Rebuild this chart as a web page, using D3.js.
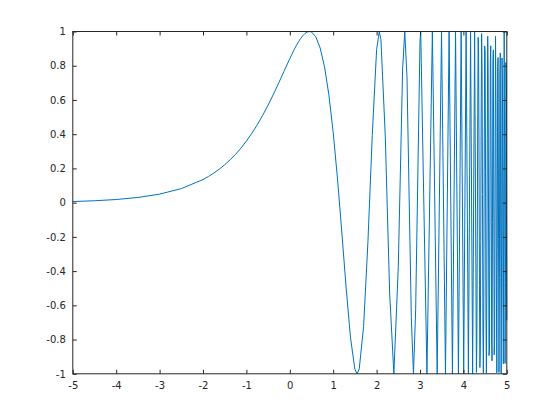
<!DOCTYPE html>
<html>
<head>
    <meta charset="utf-8">
    <title>sin(exp(x))</title>
<script src="https://d3js.org/d3.v7.min.js"></script>
<style>
body { margin: 0; background: #fff; }
text { font-family: "DejaVu Sans", sans-serif; font-size: 10px; fill: #262626; }
</style>
</head>
<body>
<script type="text/javascript">
var width = 560,
    height = 420;

// smooth part of the curve
var xSmooth = [-5, -4.5, -4, -3.5, -3, -2.5, -2, -1.875, -1.75, -1.625, -1.5, -1.375, -1.25, -1.125,
    -1, -0.875, -0.75, -0.625, -0.5, -0.375, -0.25, -0.125,
    0, 0.05, 0.1, 0.15, 0.2, 0.25, 0.3, 0.35, 0.4, 0.4516, 0.5, 0.6, 0.7, 0.8, 0.9, 1.0, 1.1, 1.2, 1.3, 1.4, 1.5, 1.5502,
    1.6, 1.7, 1.8, 1.9, 2.0, 2.0611, 2.1, 2.2, 2.3, 2.3975, 2.5, 2.6, 2.6488, 2.7, 2.8, 2.8495, 2.9, 3.0];
var ySmooth = [0.0067, 0.0111, 0.0183, 0.0302, 0.0498, 0.0820, 0.1349, 0.1528, 0.1729, 0.1956, 0.2213, 0.2502, 0.2826, 0.3190,
    0.3596, 0.4049, 0.4550, 0.5101, 0.5700, 0.6345, 0.7020, 0.7723,
    0.8415, 0.8681, 0.8938, 0.9175, 0.9397, 0.9592, 0.9757, 0.9885, 0.9969, 1, 0.9970, 0.9687, 0.9034, 0.7935, 0.6303, 0.4108, 0.1370, -0.1776, -0.5035, -0.7917, -0.9735, -1,
    -0.9712, -0.7237, -0.2314, 0.3919, 0.8939, 1, 0.9514, 0.3892, -0.5222, -1, -0.3745, 0.7817, 1, 0.7366, -0.6720, -1, -0.6253, 0.9445];

// peaks and troughs of the fast part
var xPeaks = [3.0166, 3.1597, 3.2848, 3.3960, 3.4961, 3.5871, 3.6705, 3.7474, 3.8189, 3.8856,
    3.9481, 4.0069, 4.0625, 4.1151, 4.1652, 4.2128, 4.2583];
var yPeaks = [1, -1, 1, -1, 1, -1, 1, -1, 1, -1, 1, -1, 1, -1, 1, -1, 1];

// sampled points near the right edge
var xDense = [4.30, 4.31, 4.32, 4.33, 4.34, 4.35, 4.36, 4.37, 4.38, 4.39,
    4.40, 4.41, 4.42, 4.43, 4.44, 4.45, 4.46, 4.47, 4.48, 4.49,
    4.50, 4.51, 4.52, 4.53, 4.54, 4.55, 4.56, 4.57, 4.58, 4.59,
    4.60, 4.61, 4.62, 4.63, 4.64, 4.65, 4.66, 4.67, 4.68, 4.69,
    4.70, 4.71, 4.72, 4.73, 4.74, 4.75, 4.76, 4.77, 4.78, 4.79,
    4.80, 4.81, 4.82, 4.83, 4.84, 4.85, 4.86, 4.87, 4.88, 4.89,
    4.90, 4.91, 4.92, 4.93, 4.94, 4.95, 4.96, 4.97, 4.98, 4.99, 5.00];
var yDense = [-0.9919, -0.8179, -0.2081, 0.5193, 0.9661, 0.8730, 0.2789, -0.4828, -0.9631, -0.8627,
    -0.2285, 0.5548, 0.9879, 0.7781, 0.0480, -0.7200, -0.9956, -0.5712, 0.2668, 0.9156,
    0.8862, 0.1833, -0.6665, -0.9965, -0.5286, 0.3752, 0.9723, 0.7481, -0.1247, -0.8935,
    -0.8656, -0.0468, 0.8207, 0.9163, 0.1279, -0.7910, -0.9239, -0.1162, 0.8167, 0.8924,
    0.0086, -0.8896, -0.8011, 0.1969, 0.9726, 0.6089, -0.4856, -0.9940, -0.2727, 0.7962,
    0.8479, -0.2080, -0.9918, -0.4374, 0.7213, 0.8747, -0.2172, -0.9985, -0.3110, 0.8453,
    0.7164, -0.5236, -0.9416, 0.1489, 0.9995, 0.1954, -0.9399, -0.4674, 0.8197, 0.6581, -0.6877];

var xTicks = [-5, -4, -3, -2, -1, 0, 1, 2, 3, 4, 5];
var yTicks = [-1, -0.8, -0.6, -0.4, -0.2, 0, 0.2, 0.4, 0.6, 0.8, 1];

var plotLeft = 72.8, plotRight = 506.8, plotTop = 31.5, plotBottom = 373.8;

var svg = d3.select("body").append("svg")
    .attr("width", width)
    .attr("height", height);

var x = d3.scaleLinear().domain([-5, 5]).range([plotLeft, plotRight]);
var y = d3.scaleLinear().domain([-1, 1]).range([plotBottom, plotTop]);

var points = [];
[[xSmooth, ySmooth], [xPeaks, yPeaks], [xDense, yDense]].forEach(function(s) {
    s[0].forEach(function(v, i) { points.push([v, s[1][i]]); });
});

var line = d3.line()
    .x(function(d) { return x(d[0]); })
    .y(function(d) { return y(d[1]); });

svg.append("path")
    .datum(points)
    .attr("d", line)
    .attr("fill", "none")
    .attr("stroke", "#0072bd")
    .attr("stroke-width", 1);

function label(d) { return String(d); }

function styleAxis(g) {
    g.select(".domain").remove();
    g.selectAll(".tick line").attr("stroke", "#262626");
    g.attr("font-family", null).attr("font-size", null);
}

svg.append("g")
    .attr("transform", "translate(0," + plotBottom + ")")
    .call(d3.axisBottom(x).tickValues(xTicks).tickSize(-4).tickPadding(8).tickFormat(label))
    .call(styleAxis);

svg.append("g")
    .attr("transform", "translate(0," + plotTop + ")")
    .call(d3.axisTop(x).tickValues(xTicks).tickSize(-4).tickFormat(""))
    .call(styleAxis);

svg.append("g")
    .attr("transform", "translate(" + plotLeft + ",0)")
    .call(d3.axisLeft(y).tickValues(yTicks).tickSize(-4).tickPadding(7).tickFormat(label))
    .call(styleAxis);

svg.append("g")
    .attr("transform", "translate(" + plotRight + ",0)")
    .call(d3.axisRight(y).tickValues(yTicks).tickSize(-4).tickFormat(""))
    .call(styleAxis);

svg.append("rect")
    .attr("x", plotLeft)
    .attr("y", plotTop)
    .attr("width", plotRight - plotLeft)
    .attr("height", plotBottom - plotTop)
    .attr("fill", "none")
    .attr("stroke", "#262626")
    .attr("stroke-width", 1);
</script>
</body>
</html>
